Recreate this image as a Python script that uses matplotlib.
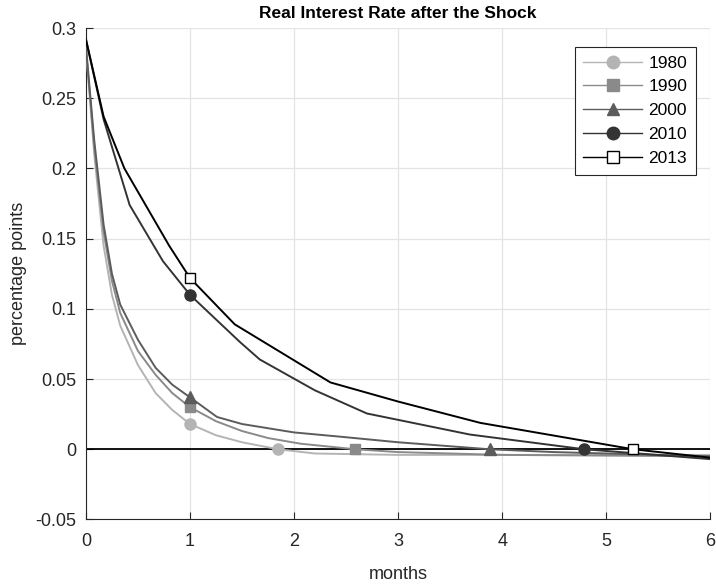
import matplotlib
matplotlib.use("Agg")
import matplotlib.pyplot as plt

plt.rcParams['font.family'] = ['Liberation Sans', 'DejaVu Sans']

# 読み取った値 (months, percentage points)
x_1980 = [0, 0.08, 0.17, 0.25, 0.33, 0.5, 0.67, 0.83, 1.0, 1.25, 1.5, 1.85, 2.2, 3.0, 4.0, 6.0]
y_1980 = [0.286, 0.21, 0.145, 0.11, 0.088, 0.06, 0.04, 0.028, 0.018, 0.01, 0.005, 0.0, -0.003, -0.004, -0.004, -0.004]

x_1990 = [0, 0.08, 0.17, 0.25, 0.33, 0.5, 0.67, 0.83, 1.0, 1.25, 1.5, 1.75, 2.06, 2.59, 3.0, 4.0, 6.0]
y_1990 = [0.286, 0.215, 0.155, 0.12, 0.097, 0.07, 0.053, 0.04, 0.030, 0.02, 0.013, 0.008, 0.004, 0.0, -0.002, -0.004, -0.005]

x_2000 = [0, 0.08, 0.17, 0.25, 0.33, 0.5, 0.67, 0.83, 1.0, 1.26, 1.5, 2.0, 2.44, 3.0, 3.88, 4.5, 6.0]
y_2000 = [0.287, 0.22, 0.16, 0.125, 0.103, 0.078, 0.058, 0.046, 0.037, 0.023, 0.018, 0.012, 0.009, 0.005, 0.0, -0.002, -0.005]

x_2010 = [0, 0.17, 0.42, 0.74, 1.0, 1.48, 1.67, 2.2, 2.7, 3.69, 4.79, 6.0]
y_2010 = [0.292, 0.235, 0.174, 0.134, 0.11, 0.0764, 0.064, 0.042, 0.0255, 0.0105, 0.0, -0.007]

x_2013 = [0, 0.17, 0.37, 0.8, 1.0, 1.43, 2.35, 3.0, 3.79, 5.26, 6.0]
y_2013 = [0.292, 0.237, 0.2, 0.145, 0.122, 0.089, 0.0476, 0.034, 0.0188, 0.0, -0.006]

# マーカーの位置 (1ヶ月目とゼロ交差)
mark_x = {'1980': [1.0, 1.85], '1990': [1.0, 2.59], '2000': [1.0, 3.88],
          '2010': [1.0, 4.79], '2013': [1.0, 5.26]}
mark_y = {'1980': [0.018, 0.0], '1990': [0.030, 0.0], '2000': [0.037, 0.0],
          '2010': [0.11, 0.0], '2013': [0.122, 0.0]}

series = [
    ('1980', x_1980, y_1980, '#b4b4b4', 'o', '#b4b4b4'),
    ('1990', x_1990, y_1990, '#8a8a8a', 's', '#8a8a8a'),
    ('2000', x_2000, y_2000, '#5c5c5c', '^', '#5c5c5c'),
    ('2010', x_2010, y_2010, '#333333', 'o', '#333333'),
    ('2013', x_2013, y_2013, '#000000', 's', 'white'),
]

fig = plt.figure(figsize=(7.16, 5.85), dpi=100)
ax = fig.add_axes([0.12, 0.112, 0.872, 0.84])

# ゼロライン
ax.plot([0, 6], [0, 0], color='black', lw=1.3, zorder=2)

for name, xs, ys, col, mk, face in series:
    ms = 8 if mk != 's' else 7
    edge = col if face != 'white' else 'black'
    ax.plot(xs, ys, color=col, lw=1.4, zorder=3)
    ax.plot(mark_x[name], mark_y[name], ls='none', marker=mk, ms=ms,
            mfc=face, mec=edge, mew=1.0, zorder=4)
    # 凡例用のダミー
    ax.plot([], [], color=col, lw=1.0, marker=mk, ms=ms + 1,
            mfc=face, mec=edge, label=name)

ax.set_xlim(0, 6)
ax.set_ylim(-0.05, 0.3)
ax.set_xticks(range(0, 7))
ax.set_yticks([-0.05, 0, 0.05, 0.1, 0.15, 0.2, 0.25, 0.3])
ax.set_yticklabels(['-0.05', '0', '0.05', '0.1', '0.15', '0.2', '0.25', '0.3'])
ax.grid(True, color='#e3e3e3', lw=0.9)
ax.set_axisbelow(True)
for s in ['top', 'right']:
    ax.spines[s].set_visible(False)
for s in ['left', 'bottom']:
    ax.spines[s].set_color('#262626')
ax.tick_params(direction='in', length=5, labelsize=13, colors='#262626', labelcolor='#262626')
ax.tick_params(axis='x', pad=10)
ax.tick_params(axis='y', pad=7)

ax.set_xlabel('months', fontsize=13, color='#262626', labelpad=11)
ax.set_ylabel('percentage points', fontsize=13, color='#262626', labelpad=6)
ax.set_title('Real Interest Rate after the Shock', fontsize=12.5, fontweight='bold', pad=7)

leg = ax.legend(loc='upper right', bbox_to_anchor=(0.977, 0.962), borderaxespad=0,
                fontsize=12.5, fancybox=False, edgecolor='#262626', framealpha=1,
                handlelength=3.4, labelspacing=0.5, borderpad=0.5, handletextpad=0.35)
leg.get_frame().set_linewidth(0.8)

fig.savefig('out.png', dpi=100)
